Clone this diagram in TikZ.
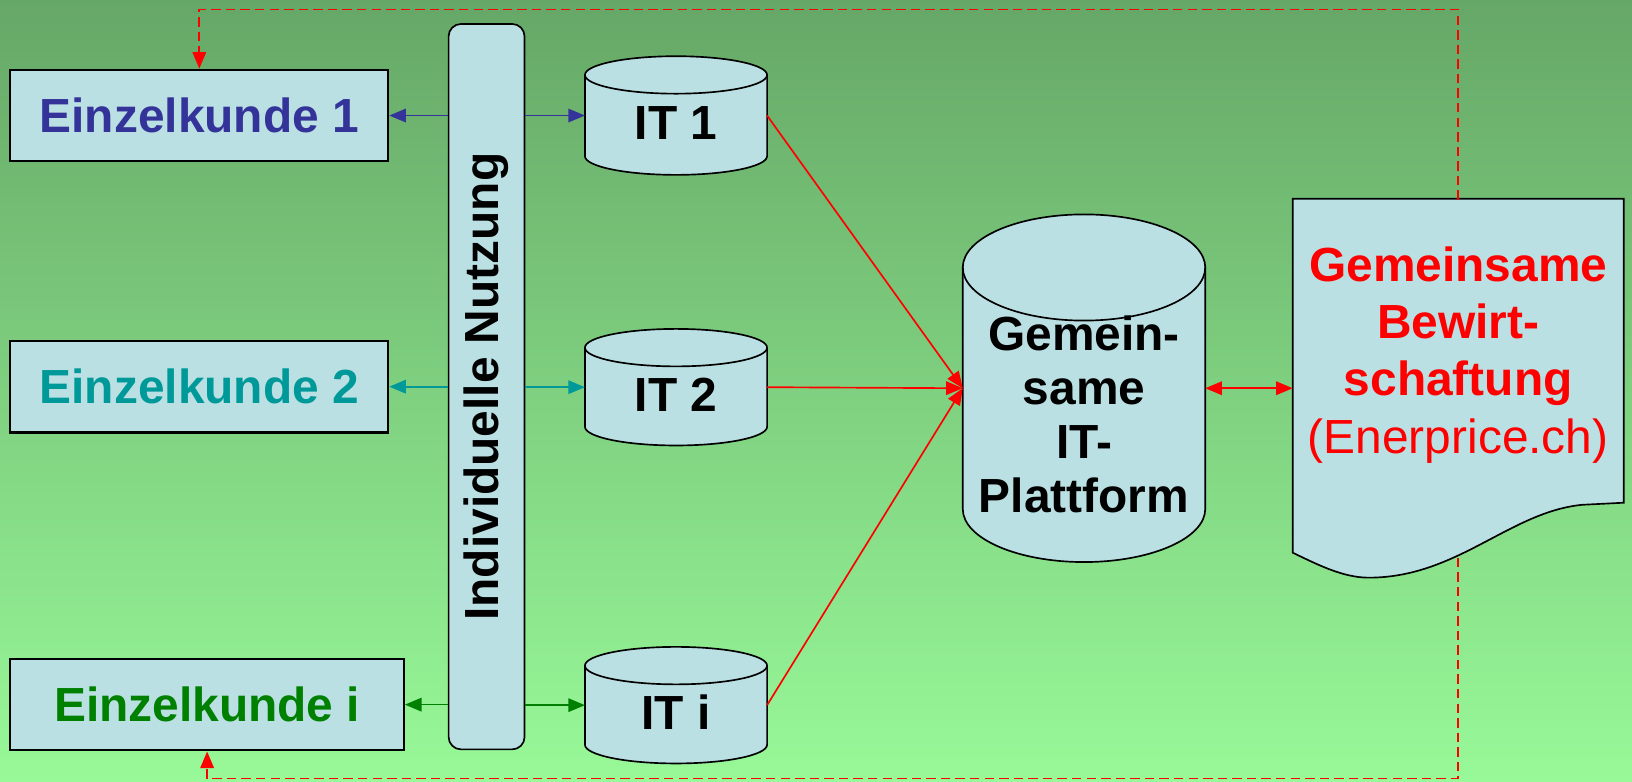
\documentclass[tikz,border=0pt]{standalone}
\usepackage{fontspec}
\setmainfont{Liberation Sans}
\usetikzlibrary{arrows.meta}
\definecolor{boxfill}{RGB}{187,224,227}
\definecolor{kundeblue}{RGB}{51,51,153}
\definecolor{kundeteal}{RGB}{0,153,153}
\definecolor{kundegreen}{RGB}{0,128,0}
\definecolor{bgtop}{RGB}{102,167,103}
\definecolor{bgbottom}{RGB}{152,249,152}
\begin{document}
\begin{tikzpicture}[x=0.5pt, y=-0.5pt,
    >={Triangle[length=8pt,width=6.5pt]},
    bigfont/.style={font=\fontsize{23}{28}\selectfont\bfseries},
    kunde/.style={draw, line width=1pt, fill=boxfill, minimum height=44pt, bigfont},
    store/.style={inner sep=0pt, outer sep=0pt},
    redlink/.style={red, line width=0.8pt, ->},
    feedback/.style={red, line width=0.8pt, dash pattern=on 4.5pt off 2.5pt, ->}]
  \shade[top color=bgtop, bottom color=bgbottom] (0,0) rectangle (1568,750.4);

  \node[kunde, text=kundeblue, minimum width=181.5pt] (k1) at (191.5,111) {Einzelkunde 1};
  \node[kunde, text=kundeteal, minimum width=181.5pt] (k2) at (191.5,371.5) {Einzelkunde 2};
  \node[kunde, text=kundegreen, minimum width=189pt] (ki) at (199,677) {Einzelkunde i};

  \node[draw, line width=0.8pt, fill=boxfill, rounded corners=6pt, rotate=90,
        minimum width=348.5pt, minimum height=36.5pt, font=\fontsize{23}{28}\selectfont\bfseries]
        (nutzung) at (467.5,371.5) {Individuelle Nutzung};

  \node[store, minimum width=87.5pt, minimum height=57pt] (it1) at (649.5,111) {};
  \node[store, minimum width=87.5pt, minimum height=56pt] (it2) at (649.5,372) {};
  \node[store, minimum width=87.5pt, minimum height=56pt] (iti) at (649.5,677.5) {};
  \node[store, minimum width=116.5pt, minimum height=167pt] (plattform) at (1041.5,373) {};

  \foreach \c/\rx/\ry in {it1/43.75pt/9pt, it2/43.75pt/9pt, iti/43.75pt/9pt, plattform/58.25pt/25.5pt} {
    \draw[line width=0.8pt, fill=boxfill] ([yshift=-\ry]\c.north west) -- ([yshift=\ry]\c.south west)
      arc[start angle=180, end angle=360, x radius=\rx, y radius=\ry]
      -- ([yshift=-\ry]\c.north east)
      arc[start angle=0, end angle=180, x radius=\rx, y radius=\ry] -- cycle;
    \draw[line width=0.8pt] ([yshift=-\ry]\c.north west) arc[start angle=180, end angle=360, x radius=\rx, y radius=\ry];
  }
  \node[bigfont] at ([yshift=-3.5pt]it1.center) {IT 1};
  \node[bigfont] at ([yshift=-3.5pt]it2.center) {IT 2};
  \node[bigfont] at ([yshift=-3.5pt]iti.center) {IT i};
  \node[align=center, font=\fontsize{23}{26}\selectfont\bfseries] at ([yshift=-12.5pt]plattform.center)
    {Gemein-\\same\\ IT-\\Plattform};

  \draw[line width=0.8pt, fill=boxfill] (1242,191) -- (1560,191) -- (1560,483) -- (1520,485)
    .. controls (1450,492) and (1400,555) .. (1315,555)
    .. controls (1290,555) and (1265,542) .. (1242,531) -- cycle;
  \node[align=center, text=red, minimum width=159pt, minimum height=149pt, inner sep=0pt, outer sep=0pt,
        font=\fontsize{23}{27.5}\selectfont] (bewirt) at (1401,341)
    {\bfseries Gemeinsame\\\bfseries Bewirt-\\\bfseries schaftung\\(Enerprice.ch)};
  \coordinate (docdip) at (1401,536);

  \draw[feedback] (bewirt.north) -- (bewirt.north |- 0,9) -| (k1.north);
  \draw[feedback] (docdip) -- (docdip |- 0,748) -| (ki.south);

  \draw[->, kundeblue, line width=0.8pt] (k1.east -| nutzung.north) -- (k1.east);
  \draw[->, kundeblue, line width=0.8pt] (nutzung.south |- it1.west) -- (it1.west);
  \draw[->, kundeteal, line width=0.8pt] (k2.east -| nutzung.north) -- (k2.east);
  \draw[->, kundeteal, line width=0.8pt] (nutzung.south |- it2.west) -- (it2.west);
  \draw[->, kundegreen, line width=0.8pt] (ki.east -| nutzung.north) -- (ki.east);
  \draw[->, kundegreen, line width=0.8pt] (nutzung.south |- iti.west) -- (iti.west);

  \draw[redlink] (it1.east) -- (plattform.west);
  \draw[redlink] (it2.east) -- (plattform.west);
  \draw[redlink] (iti.east) -- (plattform.west);
  \draw[redlink, <->] (plattform.east) -- (bewirt.west |- plattform.east);
\end{tikzpicture}
\end{document}
